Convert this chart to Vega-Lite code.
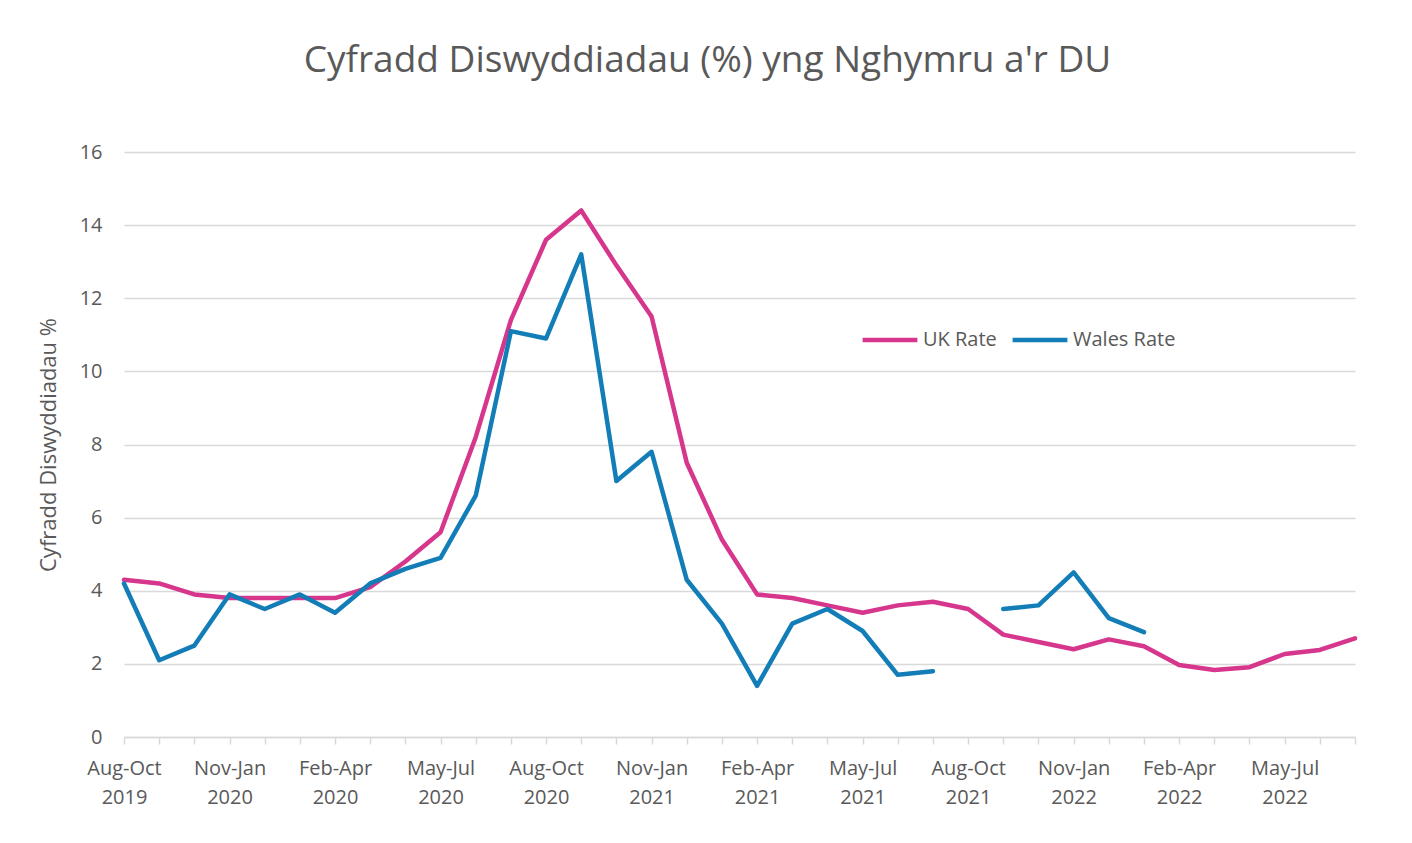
{
  "$schema": "https://vega.github.io/schema/vega-lite/v6.json",
  "width": 1231,
  "height": 585,
  "autosize": {"type": "none"},
  "padding": {"left": 124, "top": 152, "right": 57, "bottom": 106},
  "background": "white",
  "title": {
    "text": "Cyfradd Diswyddiadau (%) yng Nghymru a'r DU",
    "font": "Open Sans",
    "fontSize": 37,
    "fontWeight": "normal",
    "color": "#595959",
    "anchor": "middle",
    "dx": -32,
    "offset": 62
  },
  "config": {
    "view": {"stroke": null},
    "font": "Open Sans"
  },
  "data": {
    "values": [
      {"period": "Aug-Oct 2019", "series": "UK Rate", "rate": 4.3},
      {"period": "Sep-Nov 2019", "series": "UK Rate", "rate": 4.2},
      {"period": "Oct-Dec 2019", "series": "UK Rate", "rate": 3.9},
      {"period": "Nov-Jan 2020", "series": "UK Rate", "rate": 3.8},
      {"period": "Dec-Feb 2020", "series": "UK Rate", "rate": 3.8},
      {"period": "Jan-Mar 2020", "series": "UK Rate", "rate": 3.8},
      {"period": "Feb-Apr 2020", "series": "UK Rate", "rate": 3.8},
      {"period": "Mar-May 2020", "series": "UK Rate", "rate": 4.1},
      {"period": "Apr-Jun 2020", "series": "UK Rate", "rate": 4.8},
      {"period": "May-Jul 2020", "series": "UK Rate", "rate": 5.6},
      {"period": "Jun-Aug 2020", "series": "UK Rate", "rate": 8.2},
      {"period": "Jul-Sep 2020", "series": "UK Rate", "rate": 11.4},
      {"period": "Aug-Oct 2020", "series": "UK Rate", "rate": 13.6},
      {"period": "Sep-Nov 2020", "series": "UK Rate", "rate": 14.4},
      {"period": "Oct-Dec 2020", "series": "UK Rate", "rate": 12.9},
      {"period": "Nov-Jan 2021", "series": "UK Rate", "rate": 11.5},
      {"period": "Dec-Feb 2021", "series": "UK Rate", "rate": 7.5},
      {"period": "Jan-Mar 2021", "series": "UK Rate", "rate": 5.4},
      {"period": "Feb-Apr 2021", "series": "UK Rate", "rate": 3.9},
      {"period": "Mar-May 2021", "series": "UK Rate", "rate": 3.8},
      {"period": "Apr-Jun 2021", "series": "UK Rate", "rate": 3.6},
      {"period": "May-Jul 2021", "series": "UK Rate", "rate": 3.4},
      {"period": "Jun-Aug 2021", "series": "UK Rate", "rate": 3.6},
      {"period": "Jul-Sep 2021", "series": "UK Rate", "rate": 3.7},
      {"period": "Aug-Oct 2021", "series": "UK Rate", "rate": 3.5},
      {"period": "Sep-Nov 2021", "series": "UK Rate", "rate": 2.8},
      {"period": "Oct-Dec 2021", "series": "UK Rate", "rate": 2.6},
      {"period": "Nov-Jan 2022", "series": "UK Rate", "rate": 2.4},
      {"period": "Dec-Feb 2022", "series": "UK Rate", "rate": 2.67},
      {"period": "Jan-Mar 2022", "series": "UK Rate", "rate": 2.48},
      {"period": "Feb-Apr 2022", "series": "UK Rate", "rate": 1.97},
      {"period": "Mar-May 2022", "series": "UK Rate", "rate": 1.83},
      {"period": "Apr-Jun 2022", "series": "UK Rate", "rate": 1.91},
      {"period": "May-Jul 2022", "series": "UK Rate", "rate": 2.27},
      {"period": "Jun-Aug 2022", "series": "UK Rate", "rate": 2.38},
      {"period": "Jul-Sep 2022", "series": "UK Rate", "rate": 2.7},
      {"period": "Aug-Oct 2019", "series": "Wales Rate", "rate": 4.2},
      {"period": "Sep-Nov 2019", "series": "Wales Rate", "rate": 2.1},
      {"period": "Oct-Dec 2019", "series": "Wales Rate", "rate": 2.5},
      {"period": "Nov-Jan 2020", "series": "Wales Rate", "rate": 3.9},
      {"period": "Dec-Feb 2020", "series": "Wales Rate", "rate": 3.5},
      {"period": "Jan-Mar 2020", "series": "Wales Rate", "rate": 3.9},
      {"period": "Feb-Apr 2020", "series": "Wales Rate", "rate": 3.4},
      {"period": "Mar-May 2020", "series": "Wales Rate", "rate": 4.2},
      {"period": "Apr-Jun 2020", "series": "Wales Rate", "rate": 4.6},
      {"period": "May-Jul 2020", "series": "Wales Rate", "rate": 4.9},
      {"period": "Jun-Aug 2020", "series": "Wales Rate", "rate": 6.6},
      {"period": "Jul-Sep 2020", "series": "Wales Rate", "rate": 11.1},
      {"period": "Aug-Oct 2020", "series": "Wales Rate", "rate": 10.9},
      {"period": "Sep-Nov 2020", "series": "Wales Rate", "rate": 13.2},
      {"period": "Oct-Dec 2020", "series": "Wales Rate", "rate": 7.0},
      {"period": "Nov-Jan 2021", "series": "Wales Rate", "rate": 7.8},
      {"period": "Dec-Feb 2021", "series": "Wales Rate", "rate": 4.3},
      {"period": "Jan-Mar 2021", "series": "Wales Rate", "rate": 3.1},
      {"period": "Feb-Apr 2021", "series": "Wales Rate", "rate": 1.4},
      {"period": "Mar-May 2021", "series": "Wales Rate", "rate": 3.1},
      {"period": "Apr-Jun 2021", "series": "Wales Rate", "rate": 3.5},
      {"period": "May-Jul 2021", "series": "Wales Rate", "rate": 2.9},
      {"period": "Jun-Aug 2021", "series": "Wales Rate", "rate": 1.7},
      {"period": "Jul-Sep 2021", "series": "Wales Rate", "rate": 1.8},
      {"period": "Aug-Oct 2021", "series": "Wales Rate", "rate": null},
      {"period": "Sep-Nov 2021", "series": "Wales Rate", "rate": 3.5},
      {"period": "Oct-Dec 2021", "series": "Wales Rate", "rate": 3.6},
      {"period": "Nov-Jan 2022", "series": "Wales Rate", "rate": 4.5},
      {"period": "Dec-Feb 2022", "series": "Wales Rate", "rate": 3.25},
      {"period": "Jan-Mar 2022", "series": "Wales Rate", "rate": 2.87}
    ]
  },
  "mark": {"type": "line", "strokeWidth": 4.5, "strokeJoin": "round", "strokeCap": "round", "invalid": "break-paths-show-domains"},
  "encoding": {
    "x": {
      "field": "period",
      "type": "ordinal",
      "sort": null,
      "scale": {"type": "point", "padding": 0},
      "axis": {
        "title": null,
        "labelAngle": 0,
        "labelExpr": "test(/^(Aug|Nov|Feb|May)/, datum.label) ? split(datum.label, ' ') : ''",
        "labelFont": "Open Sans",
        "labelFontSize": 20,
        "labelColor": "#595959",
        "labelLineHeight": 29,
        "labelPadding": 14,
        "labelBaseline": "top",
        "labelOverlap": false,
        "labelBound": false,
        "domainColor": "#d9d9d9",
        "domainWidth": 1.5,
        "tickColor": "#d9d9d9",
        "tickWidth": 1.5,
        "tickSize": 7,
        "grid": false
      }
    },
    "y": {
      "field": "rate",
      "type": "quantitative",
      "scale": {"domain": [0, 16], "nice": false},
      "axis": {
        "title": "Cyfradd Diswyddiadau %",
        "titleFont": "Open Sans",
        "titleFontSize": 22,
        "titleFontWeight": "normal",
        "titleColor": "#595959",
        "titlePadding": 19,
        "values": [0, 2, 4, 6, 8, 10, 12, 14, 16],
        "labelFont": "Open Sans",
        "labelFontSize": 20,
        "labelColor": "#595959",
        "labelPadding": 22,
        "ticks": false,
        "domain": false,
        "grid": true,
        "gridColor": "#d9d9d9",
        "gridWidth": 1.5
      }
    },
    "color": {
      "field": "series",
      "type": "nominal",
      "scale": {"domain": ["UK Rate", "Wales Rate"], "range": ["#D6368C", "#137DB8"]},
      "legend": {
        "title": null,
        "orient": "none",
        "legendX": 736,
        "legendY": 158,
        "direction": "horizontal",
        "symbolType": "stroke",
        "symbolSize": 3000,
        "symbolStrokeWidth": 4.5,
        "labelFont": "Open Sans",
        "labelFontSize": 20,
        "labelColor": "#595959",
        "labelOffset": 3,
        "columnPadding": 6
      }
    }
  }
}
